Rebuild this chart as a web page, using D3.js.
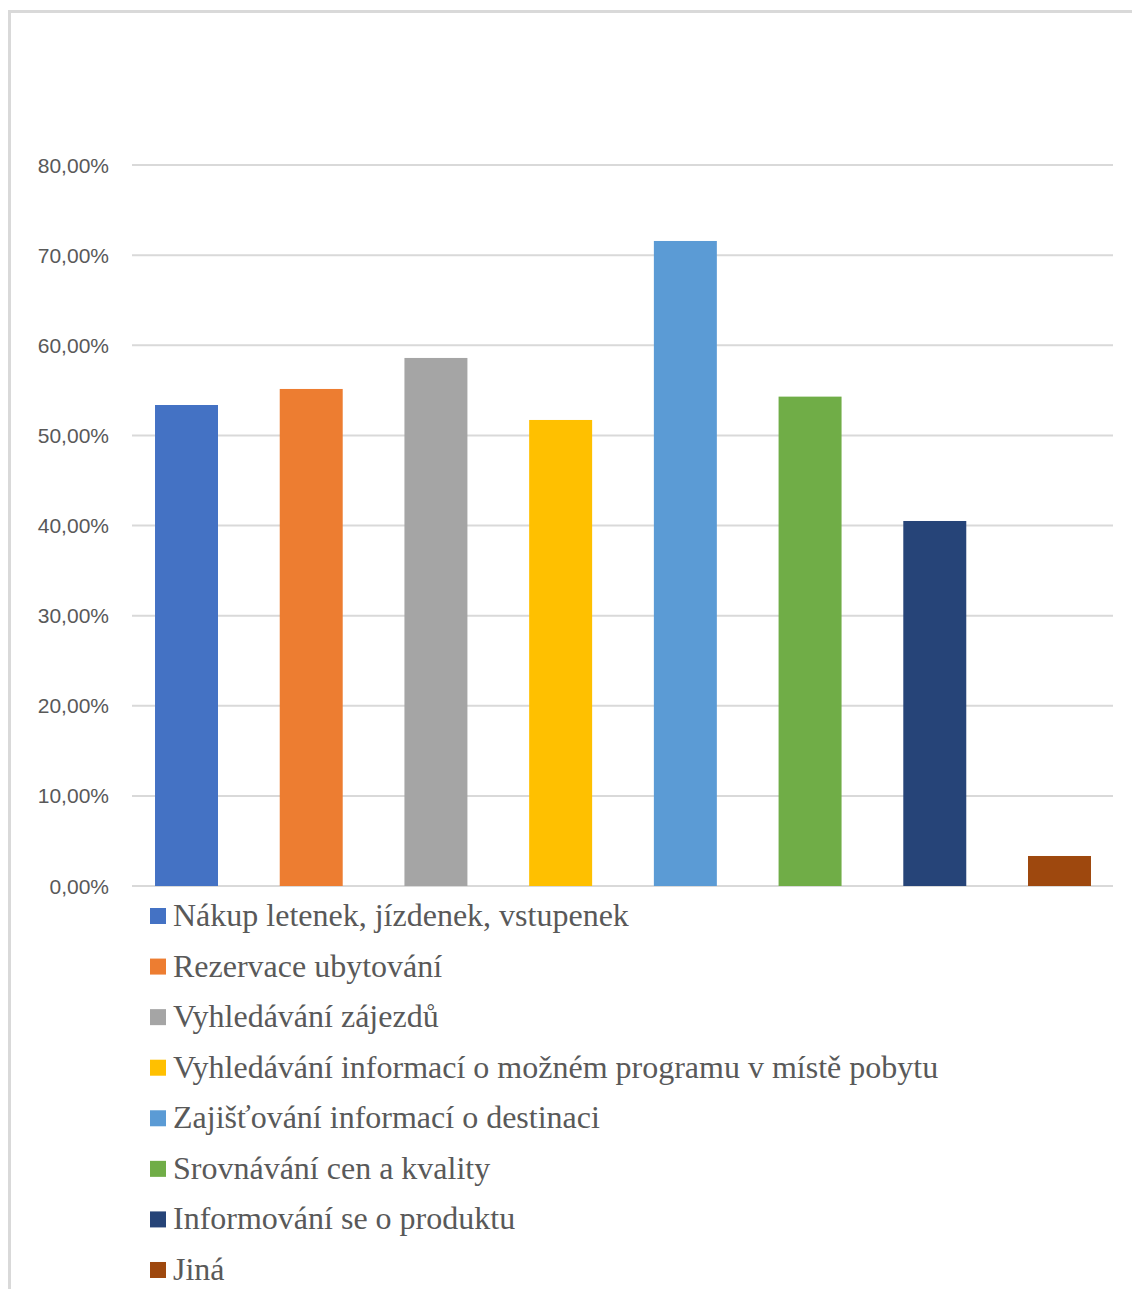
<!DOCTYPE html>
<html>
<head>
<meta charset="utf-8">
<script src="https://cdn.jsdelivr.net/npm/d3@7"></script>
<style>
  html, body { margin: 0; padding: 0; background: #fff; }
  svg { display: block; }
</style>
</head>
<body>
<svg id="chart" width="1132" height="1289"></svg>
<script>
const categories = [
  "Nákup letenek, jízdenek, vstupenek",
  "Rezervace ubytování",
  "Vyhledávání zájezdů",
  "Vyhledávání informací o možném programu v místě pobytu",
  "Zajišťování informací o destinaci",
  "Srovnávání cen a kvality",
  "Informování se o produktu",
  "Jiná"
];
const values = [53.37, 55.15, 58.59, 51.71, 71.57, 54.30, 40.50, 3.33];
const colors = ["#4472C4", "#ED7D31", "#A5A5A5", "#FFC000", "#5B9BD5", "#70AD47", "#264478", "#9E480E"];
const tickValues = [0, 10, 20, 30, 40, 50, 60, 70, 80];

const svg = d3.select("#chart");

// outer chart border (partially cropped)
svg.append("rect")
  .attr("x", 9.5).attr("y", 11.5)
  .attr("width", 1200).attr("height", 1400)
  .attr("fill", "none").attr("stroke", "#d9d9d9").attr("stroke-width", 3);

const y = d3.scaleLinear().domain([0, 80]).range([886, 165]);
const x = d3.scaleBand().domain(categories)
  .range([124.15, 1121.85]).paddingInner(0.495).paddingOuter(0.2475);

const gridX0 = 132, gridX1 = 1113;

// gridlines
svg.append("g").selectAll("line").data(tickValues).join("line")
  .attr("x1", gridX0).attr("x2", gridX1)
  .attr("y1", d => y(d)).attr("y2", d => y(d))
  .attr("stroke", "#d9d9d9").attr("stroke-width", 2);

// y tick labels
const fmt = v => v.toFixed(2).replace(".", ",") + "%";
svg.append("g").selectAll("text").data(tickValues).join("text")
  .attr("x", 109).attr("y", d => y(d))
  .attr("dy", "0.36em")
  .attr("text-anchor", "end")
  .attr("font-family", "'Liberation Sans', Arial, sans-serif")
  .attr("font-size", 21)
  .attr("fill", "#595959")
  .text(d => fmt(d));

// bars
svg.append("g").selectAll("rect").data(values).join("rect")
  .attr("x", (d, i) => x(categories[i]))
  .attr("width", x.bandwidth())
  .attr("y", d => y(d))
  .attr("height", d => y(0) - y(d))
  .attr("fill", (d, i) => colors[i]);

// legend
const legendTop = 908, rowH = 50.57;
const lg = svg.append("g").selectAll("g").data(categories).join("g")
  .attr("transform", (d, i) => `translate(0, ${legendTop + i * rowH})`);
lg.append("rect")
  .attr("x", 150).attr("y", 0).attr("width", 16).attr("height", 16)
  .attr("fill", (d, i) => colors[i]);
lg.append("text")
  .attr("x", 173).attr("y", 18)
  .attr("font-family", "'Liberation Serif', 'Times New Roman', serif")
  .attr("font-size", 32)
  .attr("fill", "#595959")
  .text(d => d);
</script>
</body>
</html>
